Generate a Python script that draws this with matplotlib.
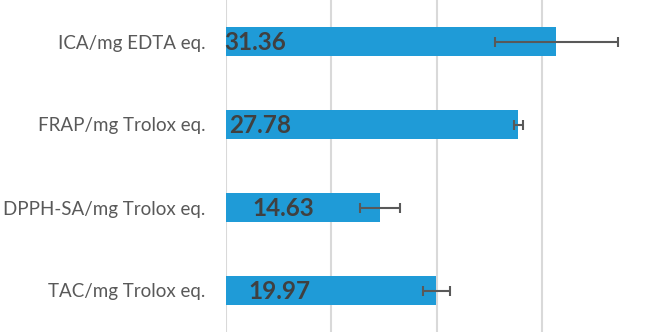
import matplotlib
matplotlib.use('Agg')
import matplotlib.pyplot as plt

# data (top to bottom as shown)
categories = ['ICA/mg EDTA eq.', 'FRAP/mg Trolox eq.', 'DPPH-SA/mg Trolox eq.', 'TAC/mg Trolox eq.']
values = [31.36, 27.78, 14.63, 19.97]
errors = [5.85, 0.45, 1.93, 1.3]
value_labels = ['31.36', '27.78', '14.63', '19.97']

# label offsets from bar base, in points (labels were nudged by hand in the original)
label_offsets = [-1, 2, 19, 16]

plt.rcParams['font.family'] = ['Lato', 'DejaVu Sans']

fig = plt.figure(figsize=(6.46, 3.32), dpi=100)
ax = fig.add_axes([226 / 646, 0, 420 / 646, 1])

ypos = list(range(len(categories)))
ax.barh(ypos, values, height=0.35, color='#1f9bd7', zorder=2)
ax.errorbar(values, ypos, xerr=errors, fmt='none', ecolor='#595959',
            elinewidth=1.5, capsize=3.6, capthick=1.5, zorder=3)

for y, v, lab, off in zip(ypos, values, value_labels, label_offsets):
    ax.annotate(lab, xy=(0, y), xytext=(off, -1), textcoords='offset points',
                ha='left', va='center', fontsize=17.5, fontweight='bold',
                color='#404040', zorder=4)

ax.set_yticks(ypos)
ax.set_yticklabels(categories, fontsize=13.5, color='#595959')
ax.set_ylim(len(categories) - 0.5, -0.5)
ax.set_xlim(0, 39.9)
ax.set_xticks([0, 10, 20, 30])
ax.tick_params(axis='y', length=0, pad=15)
ax.tick_params(axis='x', length=0, labelbottom=False)

ax.grid(True, axis='x', color='#d9d9d9', linewidth=1.5, zorder=0)
for s in ax.spines.values():
    s.set_visible(False)

plt.savefig('out.png', dpi=100)
